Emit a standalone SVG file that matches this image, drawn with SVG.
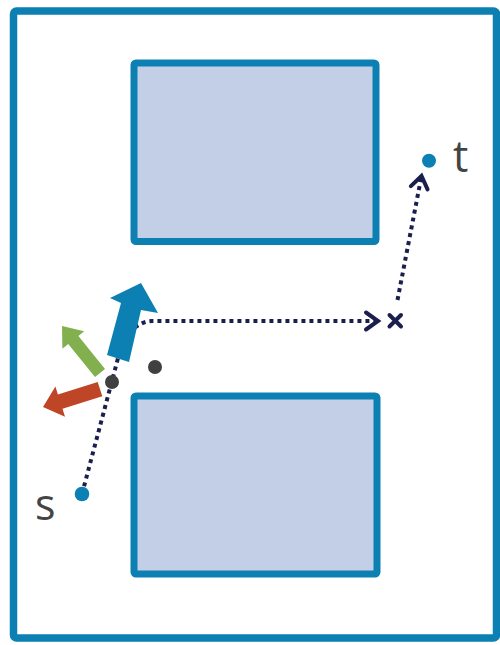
<svg xmlns="http://www.w3.org/2000/svg" width="500" height="645" viewBox="0 0 500 645">
<style>
.frame{fill:#ffffff;stroke:#0c80b2;stroke-width:7.5;}
.obs{fill:#c3cfe7;stroke:#0c80b2;stroke-width:7;}
.dotted{fill:none;stroke:#1b1f4e;stroke-width:4;stroke-dasharray:4 4;}
.solid{fill:none;stroke:#1b1f4e;stroke-width:4;stroke-linecap:round;}
.lbl{font-family:"Open Sans","Noto Sans","Liberation Sans",sans-serif;font-size:43px;fill:#444444;}
.pt{fill:#0c80b2;}
.grey{fill:#404040;}
</style>
<defs>
<marker id="chev" markerUnits="userSpaceOnUse" markerWidth="30" markerHeight="30" refX="0" refY="0" orient="auto" overflow="visible">
<path d="M-12,-8.5 L0,0 L-12,8.5" fill="none" stroke="#1b1f4e" stroke-width="4" stroke-linecap="round" stroke-linejoin="miter"/>
</marker>
</defs>
<g id="frame"><rect class="frame" x="13.5" y="11" width="483" height="627" rx="3"/></g>
<g id="obstacle-top"><rect class="obs" x="134" y="63" width="242" height="178.5" rx="2"/></g>
<g id="obstacle-bottom"><rect class="obs" x="134" y="396" width="243" height="178" rx="2"/></g>
<g id="connectors">
<path class="dotted" d="M82,494 L117,362 Q127,322 152,321 L378,321" marker-end="url(#chev)"/>
<path class="dotted" d="M397.5,300 L421.5,176" marker-end="url(#chev)"/>
</g>
<g id="x-mark">
<path class="solid" d="M389.5,315 L401,326.5 M401,315 L389.5,326.5"/>
</g>
<g id="red-arrow"><polygon fill="#bf4527" points="102.3,396.2 62.5,408.7 65,416.8 43,407 55.4,386.4 57.9,394.4 97.7,381.9"/></g>
<g id="green-arrow"><polygon fill="#82b04e" points="105,369 78.4,335.9 84.2,331.2 62,326 62.4,348.8 68.2,344.1 95,377.1"/></g>
<g id="blue-arrow"><polygon fill="#0c80b2" points="107,355 129,362 141,310 158,313 141,283 110,298 121,303"/></g>
<g id="dot-a"><circle class="grey" cx="112" cy="382" r="7"/></g>
<g id="dot-b"><circle class="grey" cx="155" cy="367" r="7"/></g>
<g id="s"><circle class="pt" cx="82" cy="494" r="7.3"/><text class="lbl" x="35" y="520">s</text></g>
<g id="t"><circle class="pt" cx="429" cy="160.7" r="7"/><text class="lbl" x="453" y="172">t</text></g>
</svg>
